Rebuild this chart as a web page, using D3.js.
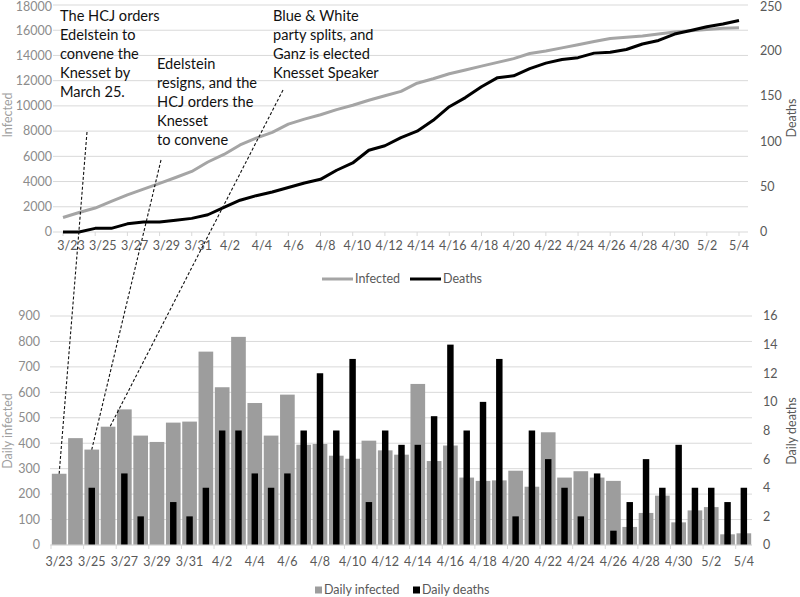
<!DOCTYPE html>
<html><head><meta charset="utf-8">
<script src="https://cdn.jsdelivr.net/npm/d3@7"></script>
<style>body{margin:0;background:#fff}svg{display:block;font-family:Lato,"Open Sans",sans-serif}</style>
</head><body><svg id="c" width="800" height="597"></svg>
<script>
const dates = ["3/23","3/24","3/25","3/26","3/27","3/28","3/29","3/30","3/31","4/1","4/2","4/3","4/4","4/5","4/6","4/7","4/8","4/9","4/10","4/11","4/12","4/13","4/14","4/15","4/16","4/17","4/18","4/19","4/20","4/21","4/22","4/23","4/24","4/25","4/26","4/27","4/28","4/29","4/30","5/1","5/2","5/3","5/4"];
const infected = [1150,1550,1900,2420,2950,3400,3850,4320,4800,5550,6150,6900,7450,7900,8550,8950,9300,9700,10050,10450,10800,11150,11800,12150,12550,12850,13150,13450,13750,14150,14350,14600,14850,15100,15350,15450,15550,15700,15850,15950,16050,16150,16200];
const deaths = [0,0,4,4,9,11,11,13,15,19,27,35,40,44,49,54,58,68,76,90,95,104,111,123,138,148,160,170,172,180,186,190,192,197,198,201,207,211,218,222,226,229,233];
const dailyInfected = [280,420,375,465,533,430,405,481,485,760,620,818,558,430,591,394,397,351,339,410,372,355,633,330,391,265,252,254,292,229,443,265,290,265,252,71,126,194,89,136,149,42,46];
const dailyDeaths = [0,0,4,0,5,2,0,3,2,4,8,8,5,4,5,8,12,8,13,3,8,7,7,9,14,8,10,13,2,8,6,4,2,5,1,3,6,4,7,4,4,3,4];
const infTicks = [0,2000,4000,6000,8000,10000,12000,14000,16000,18000];
const deathTicks = [0,50,100,150,200,250];
const diTicks = [0,100,200,300,400,500,600,700,800,900];
const ddTicks = [0,2,4,6,8,10,12,14,16];
const notes = [
  {lines:["The HCJ orders","Edelstein to","convene the","Knesset by","March 25."], date:"3/23"},
  {lines:["Edelstein","resigns, and the","HCJ orders the","Knesset","to convene"], date:"3/25"},
  {lines:["Blue & White","party splits, and","Ganz is elected","Knesset Speaker"], date:"3/26"}
];

const svg = d3.select("#c");
const GRID="#d9d9d9", GRAYL="#a5a5a5", GRAYB="#9d9d9d";
const LBL="#8c8c8c", DARK="#595959";

// ---------- top chart ----------
const xT = d3.scalePoint().domain(dates).range([63,739]);
const yI = d3.scaleLinear().domain([0,18000]).range([232,5]);
const yD = d3.scaleLinear().domain([0,250]).range([232,5]);
const gTop = svg.append("g");
gTop.selectAll("line.g").data(infTicks).join("line")
  .attr("x1",53).attr("x2",748).attr("y1",d=>yI(d)).attr("y2",d=>yI(d))
  .attr("stroke",GRID).attr("stroke-width",1);
gTop.selectAll("line.t").data(dates.filter((d,i)=>i%2===0)).join("line")
  .attr("x1",d=>xT(d)).attr("x2",d=>xT(d)).attr("y1",232).attr("y2",236).attr("stroke",GRID);
gTop.selectAll("text.yl").data(infTicks).join("text")
  .attr("x",52).attr("y",d=>Math.max(yI(d),7)).attr("dy","0.35em").attr("text-anchor","end")
  .attr("font-size",12.5).attr("fill",LBL).text(d=>d);
gTop.selectAll("text.yr").data(deathTicks).join("text")
  .attr("x",760).attr("y",d=>Math.max(yD(d),7)).attr("dy","0.35em").attr("text-anchor","start")
  .attr("font-size",12.5).attr("fill",DARK).text(d=>d);
gTop.selectAll("text.xl").data(dates.filter((d,i)=>i%2===0)).join("text")
  .attr("x",(d,i)=>xT(d)+8-8*i/21).attr("y",250).attr("text-anchor","middle")
  .attr("font-size",12.5).attr("fill",DARK).text(d=>d);
gTop.append("text").attr("transform","translate(12,115) rotate(-90)").attr("text-anchor","middle")
  .attr("font-size",12.5).attr("fill","#a0a0a0").text("Infected");
gTop.append("text").attr("transform","translate(796,118) rotate(-90)").attr("text-anchor","middle")
  .attr("font-size",12.5).attr("fill",DARK).text("Deaths");
gTop.append("path").datum(infected).attr("fill","none").attr("stroke",GRAYL).attr("stroke-width",3)
  .attr("stroke-linejoin","round")
  .attr("d",d3.line().x((d,i)=>xT(dates[i])).y(d=>yI(d)));
gTop.append("path").datum(deaths).attr("fill","none").attr("stroke","#000").attr("stroke-width",3)
  .attr("stroke-linejoin","round")
  .attr("d",d3.line().x((d,i)=>xT(dates[i])).y(d=>yD(d)));
const lg = gTop.append("g").attr("transform","translate(322,279)");
lg.append("line").attr("x1",0).attr("x2",31).attr("stroke",GRAYL).attr("stroke-width",3);
lg.append("text").attr("x",33).attr("dy","0.35em").attr("font-size",12.5).attr("fill",DARK).text("Infected");
lg.append("line").attr("x1",88).attr("x2",119).attr("stroke","#000").attr("stroke-width",3);
lg.append("text").attr("x",121).attr("dy","0.35em").attr("font-size",12.5).attr("fill",DARK).text("Deaths");

// ---------- bottom chart ----------
const xB = d3.scaleBand().domain(dates).range([51,752]).paddingInner(0.1).paddingOuter(0.05);
const yDI = d3.scaleLinear().domain([0,900]).range([545,316]);
const yDD = d3.scaleLinear().domain([0,16]).range([545,316]);
const gBot = svg.append("g");
gBot.selectAll("line.g").data(diTicks).join("line")
  .attr("x1",50).attr("x2",752).attr("y1",d=>yDI(d)).attr("y2",d=>yDI(d))
  .attr("stroke",GRID);
const bstep = 701/dates.length;
gBot.selectAll("line.t").data(d3.range(0,dates.length+1,2)).join("line")
  .attr("x1",k=>51+k*bstep).attr("x2",k=>51+k*bstep)
  .attr("y1",545).attr("y2",549).attr("stroke",GRID);
gBot.selectAll("text.yl").data(diTicks).join("text")
  .attr("x",40).attr("y",d=>yDI(d)).attr("dy","0.35em").attr("text-anchor","end")
  .attr("font-size",12.5).attr("fill",LBL).text(d=>d);
gBot.selectAll("text.yr").data(ddTicks).join("text")
  .attr("x",763).attr("y",d=>yDD(d)).attr("dy","0.35em").attr("text-anchor","start")
  .attr("font-size",12.5).attr("fill",DARK).text(d=>d);
gBot.selectAll("text.xl").data(dates.filter((d,i)=>i%2===0)).join("text")
  .attr("x",d=>xB(d)+xB.bandwidth()/2).attr("y",566).attr("text-anchor","middle")
  .attr("font-size",12.5).attr("fill",DARK).text(d=>d);
gBot.append("text").attr("transform","translate(12,431) rotate(-90)").attr("text-anchor","middle")
  .attr("font-size",12.5).attr("fill","#a0a0a0").text("Daily infected");
gBot.append("text").attr("transform","translate(796,431) rotate(-90)").attr("text-anchor","middle")
  .attr("font-size",12.5).attr("fill",DARK).text("Daily deaths");
gBot.selectAll("rect.di").data(dailyInfected).join("rect")
  .attr("x",(d,i)=>xB(dates[i])).attr("width",xB.bandwidth())
  .attr("y",d=>yDI(d)).attr("height",d=>545-yDI(d)).attr("fill",GRAYB);
const bw = xB.bandwidth()*0.44;
gBot.selectAll("rect.dd").data(dailyDeaths).join("rect")
  .attr("x",(d,i)=>xB(dates[i])+xB.bandwidth()/2-bw/2).attr("width",bw)
  .attr("y",d=>yDD(d)).attr("height",d=>545-yDD(d)).attr("fill","#000");
gBot.append("line").attr("x1",51).attr("x2",752).attr("y1",545).attr("y2",545).attr("stroke",GRID);
const lb = gBot.append("g").attr("transform","translate(315,590)");
lb.append("rect").attr("x",0).attr("y",-3.5).attr("width",7).attr("height",7).attr("fill",GRAYB);
lb.append("text").attr("x",9).attr("dy","0.35em").attr("font-size",12.5).attr("fill",DARK).text("Daily infected");
lb.append("rect").attr("x",98).attr("y",-3.5).attr("width",7).attr("height",7).attr("fill","#000");
lb.append("text").attr("x",107).attr("dy","0.35em").attr("font-size",12.5).attr("fill",DARK).text("Daily deaths");

// ---------- annotations ----------
const notePos = [{x:60,y:21,sx:87,sy:132},{x:157,y:69,sx:161,sy:160},{x:273,y:21,sx:283,sy:90}];
notes.forEach((n,k)=>{
  const p = notePos[k];
  const t = svg.append("text").attr("x",p.x).attr("y",p.y).attr("font-size",14.6).attr("fill","#111");
  n.lines.forEach((l,j)=>t.append("tspan").attr("x",p.x).attr("y",p.y+j*19).text(l));
  const i = dates.indexOf(n.date);
  svg.append("line").attr("x1",p.sx).attr("y1",p.sy)
    .attr("x2",xB(n.date)+xB.bandwidth()/2+(k===2?2:0)).attr("y2",yDI(dailyInfected[i]))
    .attr("stroke","#111").attr("stroke-width",1.1).attr("stroke-dasharray","3,2");
});
</script></body></html>
